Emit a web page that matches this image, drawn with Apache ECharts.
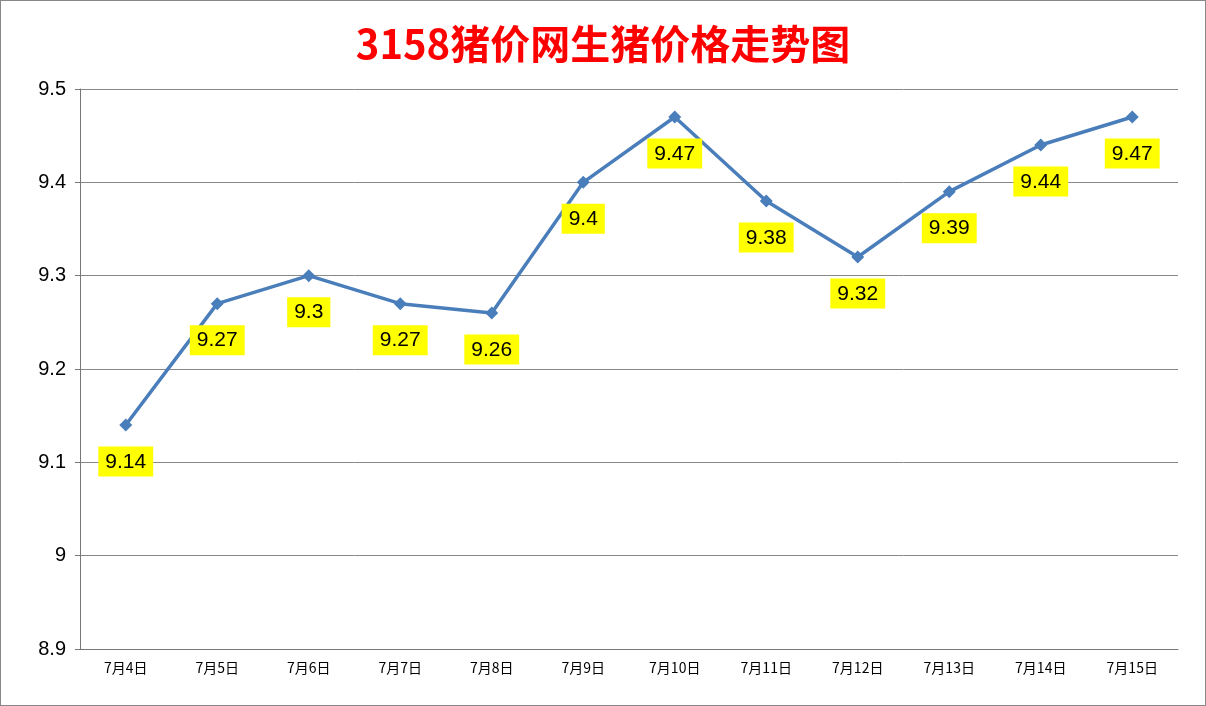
<!DOCTYPE html>
<html><head><meta charset="utf-8">
<script src="https://cdn.jsdelivr.net/npm/echarts@6/dist/echarts.min.js"></script>
<style>html,body{margin:0;padding:0;background:#fff}#c{width:1206px;height:706px;box-sizing:border-box;border:1px solid #888}</style>
</head><body><div id="c"></div>
<script>
var categories=['7月4日','7月5日','7月6日','7月7日','7月8日','7月9日','7月10日','7月11日','7月12日','7月13日','7月14日','7月15日'];
var prices=[9.14,9.27,9.3,9.27,9.26,9.4,9.47,9.38,9.32,9.39,9.44,9.47];
var chart=echarts.init(document.getElementById('c'));
chart.setOption({
  animation:false,
  title:{text:'3158猪价网生猪价格走势图',left:'center',top:18,textStyle:{color:'#ff0000',fontSize:40,fontWeight:'bold',fontFamily:'Noto Sans CJK SC'}},
  grid:{left:79,right:27,top:88,bottom:56},
  xAxis:{type:'category',data:categories,boundaryGap:true,
    axisLine:{lineStyle:{color:'#777'}},axisTick:{show:false},
    axisLabel:{color:'#000',fontSize:14,margin:12,fontFamily:'Noto Sans CJK SC'}},
  yAxis:{type:'value',min:8.9,max:9.5,interval:0.1,
    axisLine:{show:true,lineStyle:{color:'#777'}},axisTick:{show:true,lineStyle:{color:'#777'}},
    axisLabel:{color:'#000',fontSize:20,margin:14,fontFamily:'Liberation Sans',formatter:function(v){return String(+v.toFixed(1));}},
    splitLine:{lineStyle:{color:'#888',width:1}}},
  series:[{type:'line',data:prices,symbol:'diamond',symbolSize:13,
    lineStyle:{color:'#4a7ebb',width:3.5},itemStyle:{color:'#4a7ebb'},
    label:{show:true,position:'bottom',distance:15,backgroundColor:'#ffff00',color:'#000',fontSize:21,
      fontFamily:'Liberation Sans',padding:[5,7,4,7]}}]
});
</script></body></html>
